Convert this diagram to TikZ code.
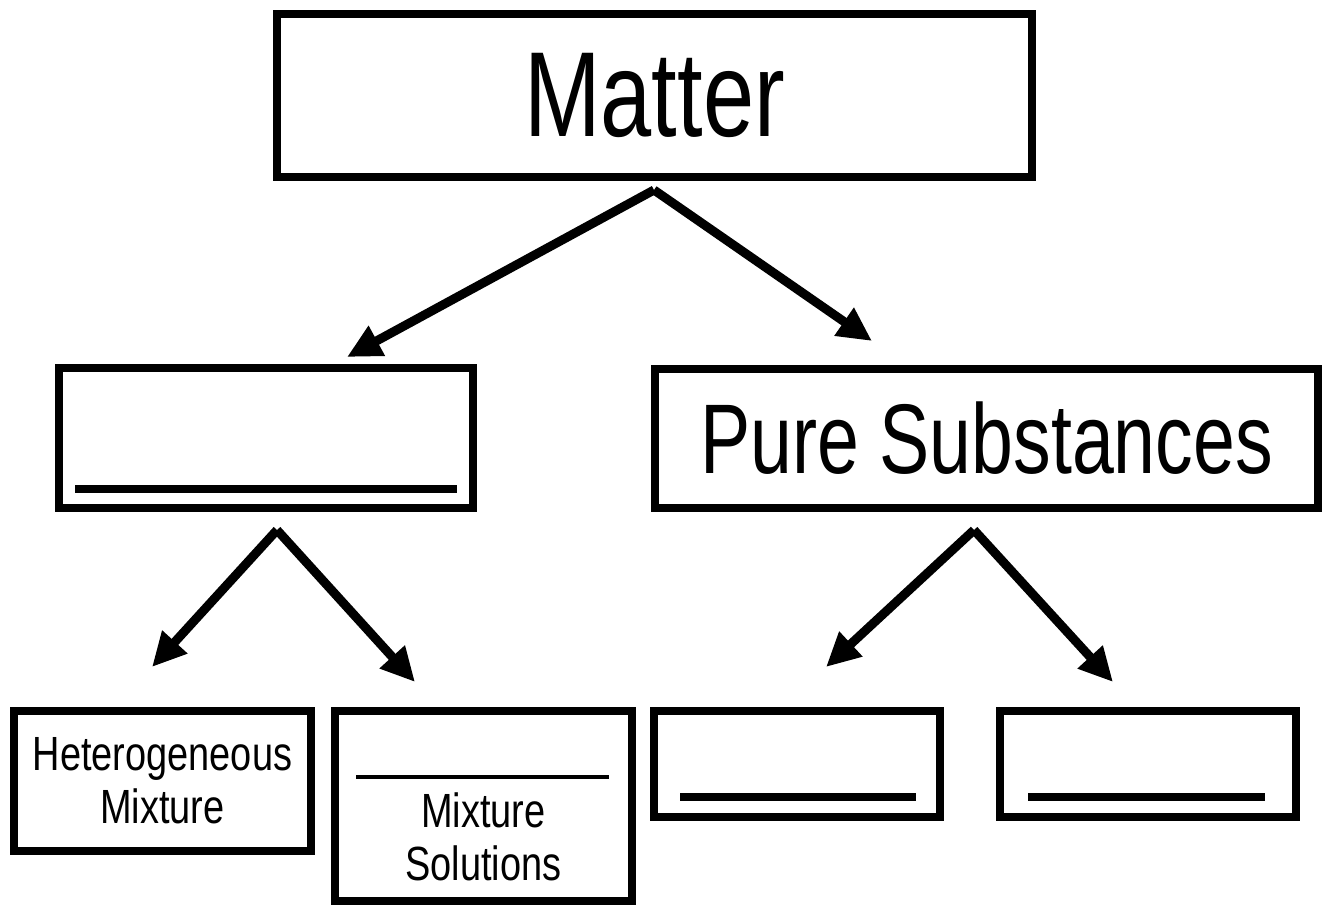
\documentclass[tikz,border=0pt]{standalone}
\usepackage{fontspec}
\setmainfont{Liberation Sans}[FakeStretch=0.76]
\newfontfamily\smallcond{Liberation Sans}[FakeStretch=0.79]
\usetikzlibrary{arrows.meta}
\begin{document}
\begin{tikzpicture}[x=1pt,y=-1pt,
  box/.style={draw, line width=8pt, inner sep=0pt, rectangle},
  arr/.style={line width=9pt, -{Triangle[length=34pt,width=32pt]}},
  blank/.style={line width=8pt},
  thinblank/.style={line width=4pt},
  big/.style={font=\fontsize{121}{130}\selectfont},
  mid/.style={font=\fontsize{99}{110}\selectfont},
  small/.style={font=\smallcond\fontsize{48}{53}\selectfont, align=center}]
\useasboundingbox (0,0) rectangle (1327,907);
% boxes
\node[box, big, minimum width=755pt, minimum height=163pt] (matter) at (654.5,95.5) {Matter};
\node[box, minimum width=414pt, minimum height=140pt] (mixtures) at (266,438) {};
\node[box, mid, minimum width=663pt, minimum height=139pt] (pure) at (986.5,438.5) {Pure Substances};
\node[box, small, minimum width=297pt, minimum height=140pt] (hetero) at (162.5,781) {Heterogeneous\\Mixture};
\node[box, minimum width=297pt, minimum height=190pt] (homo) at (483.5,806) {};
\node[box, minimum width=286pt, minimum height=106pt] (elem) at (797,764) {};
\node[box, minimum width=296pt, minimum height=106pt] (comp) at (1148,764) {};
% texts in the second bottom box
\node[small, anchor=base, inner sep=0pt] (homoA) at (483.5,827) {Mixture};
\node[small, anchor=base, inner sep=0pt] (homoB) at (483.5,880) {Solutions};
% blanks
\draw[blank] (75,489) -- (457,489);
\draw[thinblank] (356,777) -- (609,777);
\draw[blank] (680,797) -- (916,797);
\draw[blank] (1028,797) -- (1265,797);
% arrow coordinates
\coordinate (mA) at (654,190);
\coordinate (mL) at (347,357);
\coordinate (mR) at (872,341);
\coordinate (xA) at (277,530);
\coordinate (xL) at (152,667);
\coordinate (xR) at (415,682);
\coordinate (pA) at (974,530);
\coordinate (pL) at (826,667);
\coordinate (pR) at (1113,682);
\draw[arr] (mA) -- (mL);
\draw[arr] (mA) -- (mR);
\draw[arr] (xA) -- (xL);
\draw[arr] (xA) -- (xR);
\draw[arr] (pA) -- (pL);
\draw[arr] (pA) -- (pR);
\end{tikzpicture}
\end{document}
